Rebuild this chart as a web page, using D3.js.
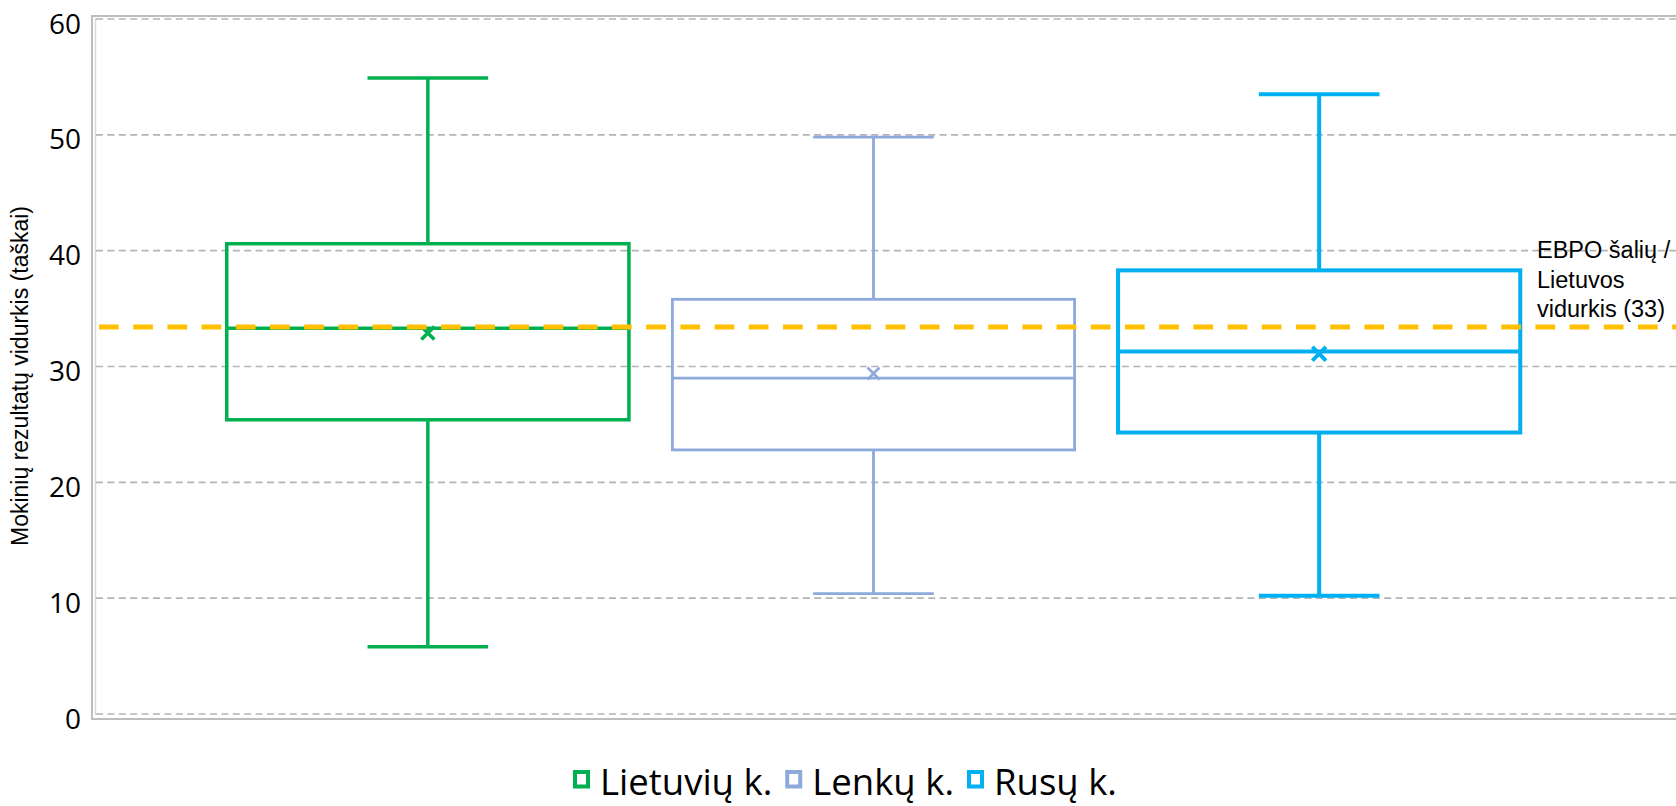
<!DOCTYPE html>
<html>
<head>
<meta charset="utf-8">
<script src="https://cdn.jsdelivr.net/npm/d3@7"></script>
<style>
  html, body { margin: 0; padding: 0; background: #ffffff; }
  svg { display: block; }
</style>
</head>
<body>
<svg id="chart" width="1676" height="806"></svg>
<script>
// ---- data ----
const series = ["Lietuvių k.", "Lenkų k.", "Rusų k."];
const colors = ["#00B050", "#8EA9DB", "#00B0F0"];
const whiskerLow = [5.8, 10.4, 10.2];
const q1 = [25.4, 22.8, 24.3];
const median = [33.3, 29.0, 31.3];
const q3 = [40.6, 35.8, 38.3];
const whiskerHigh = [54.9, 49.8, 53.5];
const means = [32.9, 29.4, 31.1];
const yTicks = [0, 10, 20, 30, 40, 50, 60];
const refValue = 33.4;
const refLabel = ["EBPO šalių /", "Lietuvos", "vidurkis (33)"];
const yTitle = "Mokinių rezultatų vidurkis (taškai)";

// ---- layout ----
const W = 1676, H = 806;
const plotLeft = 95, plotRight = 1676, plotTop = 19, plotBottom = 714;
const strokeW = [3.5, 2.8, 4];
const markSize = [6.5, 6, 6.8];

const svg = d3.select("#chart");
svg.append("rect").attr("width", W).attr("height", H).attr("fill", "#fff");

const y = d3.scaleLinear().domain([0, 60]).range([plotBottom, plotTop]);
const x = d3.scaleBand().domain(series).range([205, 1542])
  .paddingInner(0.0976).paddingOuter(0.0488);

// frame
svg.append("rect").attr("x", 92).attr("y", 16).attr("width", 1700).attr("height", 703)
  .attr("fill", "none").attr("stroke", "#BDBDBD").attr("stroke-width", 2);
svg.append("line").attr("x1", 95.5).attr("x2", 95.5).attr("y1", 18).attr("y2", 715)
  .attr("stroke", "#DADADA").attr("stroke-width", 1.5);

// gridlines
svg.append("g").selectAll("line").data(yTicks).join("line")
  .attr("x1", plotLeft + 1).attr("x2", plotRight)
  .attr("y1", d => y(d)).attr("y2", d => y(d))
  .attr("stroke", "#B4B4B4").attr("stroke-width", 1.6)
  .attr("stroke-dasharray", "7,4.4");

// y axis labels via d3 axis
const yAxis = d3.axisLeft(y).tickValues(yTicks).tickSize(0).tickPadding(0);
const gy = svg.append("g").attr("transform", "translate(81,0)").call(yAxis);
gy.select(".domain").remove();
gy.selectAll("text")
  .attr("font-family", "'Open Sans', 'Noto Sans', sans-serif")
  .attr("font-size", 28).attr("fill", "#000")
  .attr("dy", "0.36em").attr("y", 4);

// y title
svg.append("text")
  .attr("transform", "translate(28,376) rotate(-90)")
  .attr("text-anchor", "middle")
  .attr("font-family", "'Liberation Sans', Arial, sans-serif")
  .attr("font-size", 23).attr("fill", "#000")
  .text(yTitle);

// boxes
const g = svg.append("g");
series.forEach((s, i) => {
  const bx = x(s), bw = x.bandwidth(), cx = bx + bw / 2;
  const capW = bw * 0.3;
  const c = colors[i], sw = strokeW[i];
  const gg = g.append("g").attr("stroke", c).attr("stroke-width", sw).attr("fill", "none");
  gg.append("line").attr("x1", cx).attr("x2", cx).attr("y1", y(whiskerHigh[i])).attr("y2", y(q3[i]));
  gg.append("line").attr("x1", cx).attr("x2", cx).attr("y1", y(q1[i])).attr("y2", y(whiskerLow[i]));
  gg.append("line").attr("x1", cx - capW / 2).attr("x2", cx + capW / 2)
    .attr("y1", y(whiskerHigh[i])).attr("y2", y(whiskerHigh[i]));
  gg.append("line").attr("x1", cx - capW / 2).attr("x2", cx + capW / 2)
    .attr("y1", y(whiskerLow[i])).attr("y2", y(whiskerLow[i]));
  gg.append("rect").attr("x", bx).attr("y", y(q3[i]))
    .attr("width", bw).attr("height", y(q1[i]) - y(q3[i]));
  gg.append("line").attr("x1", bx).attr("x2", bx + bw)
    .attr("y1", y(median[i])).attr("y2", y(median[i]));
  const m = markSize[i], my = y(means[i]);
  gg.append("path")
    .attr("d", `M${cx - m},${my - m}L${cx + m},${my + m}M${cx - m},${my + m}L${cx + m},${my - m}`)
    .attr("stroke-width", sw);
});

// reference line
svg.append("line")
  .attr("x1", 99).attr("x2", plotRight)
  .attr("y1", y(refValue)).attr("y2", y(refValue))
  .attr("stroke", "#FFC000").attr("stroke-width", 5)
  .attr("stroke-dasharray", "19.7,14.5");

// annotation
const ann = svg.append("text")
  .attr("font-family", "'Liberation Sans', Arial, sans-serif")
  .attr("font-size", 23.5).attr("fill", "#000");
refLabel.forEach((t, k) => {
  ann.append("tspan").attr("x", 1537).attr("y", 258 + k * 29.5).text(t);
});

// legend
const leg = svg.append("g");
let lx = 573;
series.forEach((s, i) => {
  leg.append("rect").attr("x", lx + 2).attr("y", 772).attr("width", 13).attr("height", 14.5)
    .attr("fill", "#fff").attr("stroke", colors[i]).attr("stroke-width", 4);
  const t = leg.append("text").attr("x", lx + 27).attr("y", 795)
    .attr("font-family", "'Open Sans', 'Noto Sans', sans-serif")
    .attr("font-size", 36.5).attr("fill", "#000").text(s);
  const tw = t.node().getComputedTextLength();
  lx = lx + 27 + tw + 13;
});
</script>
</body>
</html>
